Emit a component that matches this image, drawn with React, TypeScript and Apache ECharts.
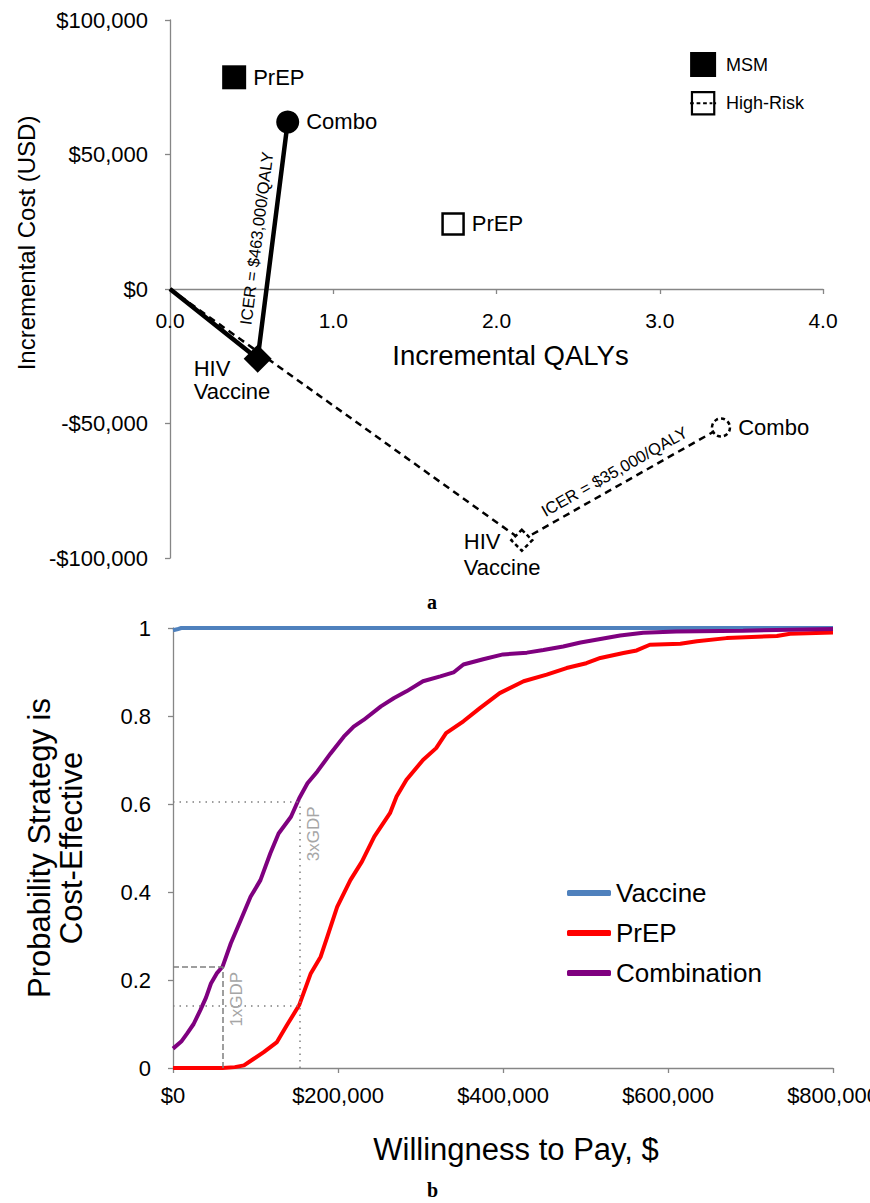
import React, { useEffect, useRef } from "react";
import * as echarts from "echarts";

// ---------- Panel a: cost-effectiveness plane ----------
const origin = [0, 0];
const msmPrep = [0.393, 78700];
const msmVaccine = [0.537, -25900];
const msmCombo = [0.721, 62100];
const hrPrep = [1.734, 24200];
const hrVaccine = [2.155, -93400];
const hrCombo = [3.375, -51500];
const msmIcer = "ICER = $463,000/QALY";
const hrIcer = "ICER = $35,000/QALY";
const qalyRange = [0, 4];
const costRange = [-100000, 100000];

// ---------- Panel b: acceptability curves ----------
const wtpVaccine = [0, 5000, 10000, 800000];
const probVaccine = [0.995, 0.997, 1.0, 1.0];

const wtpPrep = [0, 60000, 75000, 86000, 98000, 110000, 126000, 138000, 153000, 167000, 179000, 187000, 199000, 215000, 229000, 244000, 263000, 271000, 283000, 303000, 319000, 331000, 352000, 372000, 396000, 425000, 453000, 477000, 501000, 518000, 546000, 562000, 578000, 615000, 635000, 671000, 732000, 748000, 800000];
const probPrep = [0, 0, 0.002, 0.006, 0.021, 0.036, 0.059, 0.097, 0.143, 0.215, 0.253, 0.298, 0.366, 0.427, 0.469, 0.526, 0.579, 0.617, 0.655, 0.7, 0.727, 0.761, 0.788, 0.818, 0.852, 0.879, 0.894, 0.909, 0.92, 0.932, 0.943, 0.949, 0.962, 0.964, 0.97, 0.977, 0.982, 0.987, 0.99];

const wtpCombo = [0, 10000, 17000, 25000, 33000, 40000, 46000, 53000, 60000, 70000, 82000, 94000, 106000, 118000, 128000, 143000, 153000, 163000, 175000, 191000, 207000, 219000, 231000, 252000, 268000, 283000, 303000, 324000, 340000, 352000, 376000, 400000, 429000, 449000, 473000, 494000, 518000, 542000, 570000, 610000, 691000, 800000];
const probCombo = [0.044, 0.06, 0.078, 0.1, 0.131, 0.16, 0.192, 0.215, 0.23, 0.283, 0.336, 0.389, 0.427, 0.488, 0.533, 0.571, 0.613, 0.647, 0.674, 0.715, 0.753, 0.776, 0.791, 0.822, 0.841, 0.856, 0.879, 0.89, 0.899, 0.917, 0.929, 0.94, 0.944, 0.95, 0.958, 0.967, 0.975, 0.983, 0.989, 0.992, 0.994, 0.998];

const gdp1 = 60500;
const gdp3 = 154000;
const gdp1Prob = 0.23;
const gdp3ProbCombo = 0.606;
const gdp3ProbPrep = 0.141;

const FONT = "Liberation Sans, Arial, sans-serif";
const AXIS_GRAY = "#868686";

const zip = (xs: number[], ys: number[]) => xs.map((x, i) => [x, ys[i]]);
const money = (v: number) => (v < 0 ? "-$" : "$") + Math.abs(v).toLocaleString("en-US");

export default function App() {
  const ref = useRef<HTMLDivElement>(null);

  useEffect(() => {
    if (!ref.current) return;
    const chart = echarts.init(ref.current, undefined, { renderer: "svg" });

    const axisLine = { lineStyle: { color: AXIS_GRAY, width: 1.3 } };
    const axisTick = { show: true, length: 5, lineStyle: { color: AXIS_GRAY, width: 1.3 } };

    const ptLabel = (text: string) => ({
      show: true,
      formatter: text,
      position: "right",
      distance: 7,
      fontSize: 22,
      color: "#000",
      fontFamily: FONT,
    });
    const vacLabel = (dx: number, dy: number, lh: number) => ({
      show: true,
      formatter: "HIV\nVaccine",
      position: "inside",
      align: "left",
      verticalAlign: "top",
      offset: [dx, dy],
      lineHeight: lh,
      fontSize: 22,
      color: "#000",
      fontFamily: FONT,
    });
    const clear = "rgba(0,0,0,0)";

    const option: any = {
      animation: false,
      textStyle: { fontFamily: FONT },
      title: [
        { text: "a", left: 427, top: 592, padding: 0, textStyle: { fontFamily: "Liberation Serif", fontWeight: "bold", fontSize: 20, color: "#000" } },
        { text: "b", left: 427, top: 1180, padding: 0, textStyle: { fontFamily: "Liberation Serif", fontWeight: "bold", fontSize: 20, color: "#000" } },
      ],
      legend: [
        {
          orient: "vertical",
          left: 684,
          top: 47,
          itemWidth: 26,
          itemHeight: 25,
          itemGap: 14,
          textStyle: { fontSize: 18, color: "#000", fontFamily: FONT, padding: [0, 0, 0, 5] },
          data: [
            { name: "MSM", icon: "rect", itemStyle: { color: "#000", borderWidth: 0 } },
            {
              name: "High-Risk",
              icon: "path://M2,2L26,2L26,26L2,26Z M0,14L4,14 M7,14L11,14 M14,14L18,14 M21,14L24,14 M26,14L28,14",
              itemStyle: { color: "#fff", borderColor: "#000", borderWidth: 2.2 },
            },
          ],
        },
        {
          orient: "vertical",
          left: 562,
          top: 875,
          itemWidth: 44,
          itemHeight: 6,
          itemGap: 14,
          icon: "roundRect",
          textStyle: { fontSize: 26, color: "#000", fontFamily: FONT },
          data: [
            { name: "Vaccine", itemStyle: { color: "#4F81BD" } },
            { name: "PrEP", itemStyle: { color: "#FF0000" } },
            { name: "Combination", itemStyle: { color: "#7F007F" } },
          ],
        },
      ],
      grid: [
        { left: 170, top: 20, width: 653, height: 538, outerBoundsMode: "none" },
        { left: 173, top: 628, width: 660, height: 440, outerBoundsMode: "none" },
        // upper half of panel a: its bottom edge is the zero-cost line, where the QALY axis sits
        { left: 170, top: 20, width: 653, height: 269, outerBoundsMode: "none" },
      ],
      xAxis: [
        {
          type: "value",
          gridIndex: 0,
          min: qalyRange[0],
          max: qalyRange[1],
          interval: 1,
          show: false,
        },
        {
          type: "value",
          gridIndex: 1,
          min: 0,
          max: 800000,
          interval: 200000,
          axisLine,
          axisTick,
          splitLine: { show: false },
          axisLabel: { formatter: money, fontSize: 22, color: "#000", margin: 16 },
          name: "Willingness to Pay, $",
          nameLocation: "middle",
          nameGap: 66,
          nameTextStyle: { fontSize: 31, color: "#000", fontFamily: FONT, padding: [0, 0, 0, 26] },
        },
        {
          type: "value",
          gridIndex: 2,
          min: qalyRange[0],
          max: qalyRange[1],
          interval: 1,
          axisLine,
          axisTick,
          splitLine: { show: false },
          axisLabel: { formatter: (v: number) => v.toFixed(1), fontSize: 21, color: "#000", margin: 21 },
          name: "Incremental QALYs",
          nameLocation: "middle",
          nameGap: 52,
          nameTextStyle: { fontSize: 27.5, color: "#000", fontFamily: FONT, padding: [0, 0, 0, 28] },
        },
      ],
      yAxis: [
        {
          type: "value",
          gridIndex: 0,
          min: costRange[0],
          max: costRange[1],
          interval: 50000,
          axisLine: { onZero: false, lineStyle: { color: AXIS_GRAY, width: 1.3 } },
          axisTick,
          splitLine: { show: false },
          axisLabel: { formatter: money, fontSize: 22, color: "#000", margin: 22 },
          name: "Incremental Cost (USD)",
          nameLocation: "middle",
          nameGap: 118,
          nameTextStyle: { fontSize: 24, color: "#000", fontFamily: FONT, padding: [0, 0, 0, 92] },
        },
        {
          type: "value",
          gridIndex: 1,
          min: 0,
          max: 1,
          interval: 0.2,
          axisLine,
          axisTick,
          splitLine: { show: false },
          axisLabel: { fontSize: 22, color: "#000", margin: 22 },
          name: "Probability Strategy is\nCost-Effective",
          nameLocation: "middle",
          nameGap: 86,
          nameTextStyle: { fontSize: 31, lineHeight: 32, color: "#000", fontFamily: FONT },
        },
        {
          type: "value",
          gridIndex: 2,
          min: 0,
          max: costRange[1],
          show: false,
        },
      ],
      series: [
        {
          name: "MSM",
          type: "line",
          xAxisIndex: 0,
          yAxisIndex: 0,
          clip: false,
          lineStyle: { color: "#000", width: 4.5 },
          itemStyle: { color: "#000", opacity: 1 },
          data: [
            { value: origin, symbol: "none" },
            { value: msmVaccine, symbol: "diamond", symbolSize: 28, label: vacLabel(-64, -2, 23) },
            { value: msmCombo, symbol: "circle", symbolSize: 23, label: ptLabel("Combo") },
          ],
          markLine: {
            silent: true,
            symbol: "none",
            lineStyle: { color: clear, width: 0 },
            label: { show: true, position: "insideMiddleTop", formatter: msmIcer, fontSize: 16.5, color: "#000", distance: 8 },
            data: [[{ coord: msmVaccine }, { coord: msmCombo }]],
          },
        },
        {
          name: "MSM",
          type: "scatter",
          xAxisIndex: 0,
          yAxisIndex: 0,
          symbol: "rect",
          symbolSize: 24,
          itemStyle: { color: "#000", opacity: 1 },
          data: [{ value: msmPrep, label: ptLabel("PrEP") }],
        },
        {
          name: "High-Risk",
          type: "line",
          xAxisIndex: 0,
          yAxisIndex: 0,
          clip: false,
          lineStyle: { color: "#000", width: 2.5, type: [7, 5] },
          itemStyle: { color: "#fff", borderColor: "#000", borderWidth: 2.5, borderType: [4, 3], opacity: 1 },
          data: [
            { value: origin, symbol: "none" },
            { value: hrVaccine, symbol: "diamond", symbolSize: 21, label: vacLabel(-58, -12, 26) },
            { value: hrCombo, symbol: "circle", symbolSize: 18, label: ptLabel("Combo") },
          ],
          markLine: {
            silent: true,
            symbol: "none",
            lineStyle: { color: clear, width: 0 },
            label: { show: true, position: "insideMiddleTop", formatter: hrIcer, fontSize: 16.5, color: "#000", distance: 6 },
            data: [[{ coord: hrVaccine }, { coord: hrCombo }]],
          },
        },
        {
          name: "High-Risk",
          type: "scatter",
          xAxisIndex: 0,
          yAxisIndex: 0,
          symbol: "rect",
          symbolSize: 21,
          itemStyle: { color: "#fff", borderColor: "#000", borderWidth: 2.5, opacity: 1 },
          data: [{ value: hrPrep, label: ptLabel("PrEP") }],
        },
        {
          name: "Vaccine",
          type: "line",
          xAxisIndex: 1,
          yAxisIndex: 1,
          showSymbol: false,
          clip: false,
          lineStyle: { color: "#4F81BD", width: 4 },
          itemStyle: { color: "#4F81BD" },
          data: zip(wtpVaccine, probVaccine),
        },
        {
          name: "PrEP",
          type: "line",
          xAxisIndex: 1,
          yAxisIndex: 1,
          showSymbol: false,
          clip: false,
          lineStyle: { color: "#FF0000", width: 4 },
          itemStyle: { color: "#FF0000" },
          data: zip(wtpPrep, probPrep),
          markLine: {
            silent: true,
            symbol: "none",
            label: { show: false },
            data: [
              [
                {
                  coord: [gdp1, 0],
                  lineStyle: { color: "#7f7f7f", width: 1.5, type: [6, 3] },
                  label: { show: true, formatter: "1xGDP", position: "insideEndBottom", fontSize: 17, color: "#A6A6A6", distance: 5 },
                },
                { coord: [gdp1, gdp1Prob] },
              ],
              [{ coord: [0, gdp1Prob], lineStyle: { color: "#7f7f7f", width: 1.5, type: [6, 3] } }, { coord: [gdp1, gdp1Prob] }],
              [
                {
                  coord: [gdp3, 0],
                  lineStyle: { color: "#7f7f7f", width: 1.5, type: [1.5, 5] },
                  label: { show: true, formatter: "3xGDP", position: "insideEndBottom", fontSize: 17, color: "#A6A6A6", distance: 5 },
                },
                { coord: [gdp3, gdp3ProbCombo] },
              ],
              [{ coord: [0, gdp3ProbCombo], lineStyle: { color: "#7f7f7f", width: 1.5, type: [1.5, 5] } }, { coord: [gdp3, gdp3ProbCombo] }],
              [{ coord: [0, gdp3ProbPrep], lineStyle: { color: "#7f7f7f", width: 1.5, type: [1.5, 5] } }, { coord: [gdp3, gdp3ProbPrep] }],
            ],
          },
        },
        {
          name: "Combination",
          type: "line",
          xAxisIndex: 1,
          yAxisIndex: 1,
          showSymbol: false,
          clip: false,
          lineStyle: { color: "#7F007F", width: 4 },
          itemStyle: { color: "#7F007F" },
          data: zip(wtpCombo, probCombo),
        },
      ],
    };

    chart.setOption(option);
    return () => chart.dispose();
  }, []);

  return <div ref={ref} style={{ position: "absolute", left: 0, top: 0, width: 870, height: 1203, background: "#fff" }} />;
}
